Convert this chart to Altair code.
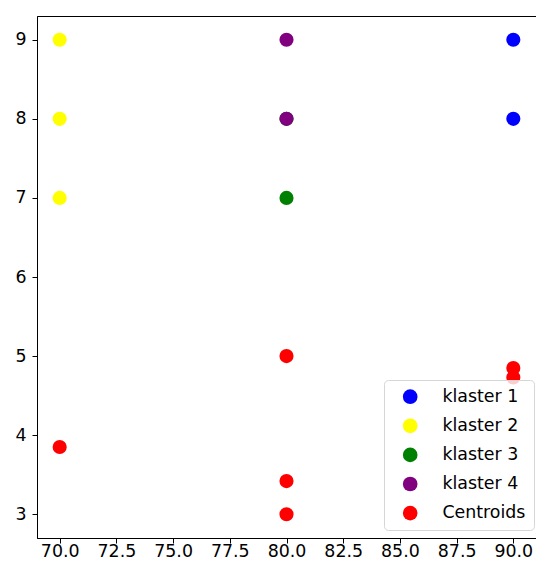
import altair as alt
import pandas as pd

# data
k1_x = [90, 90]
k1_y = [9, 8]
k2_x = [70, 70, 70]
k2_y = [9, 8, 7]
k3_x = [80, 80]
k3_y = [8, 7]
k4_x = [80, 80]
k4_y = [9, 8]
cent_x = [70, 80, 80, 80, 90, 90]
cent_y = [3.85, 5.0, 3.42, 3.0, 4.85, 4.73]

series = ["klaster 1", "klaster 2", "klaster 3", "klaster 4", "Centroids"]
colors = ["blue", "yellow", "green", "purple", "red"]
x_ticks = [70.0, 72.5, 75.0, 77.5, 80.0, 82.5, 85.0, 87.5, 90.0]
y_ticks = [3, 4, 5, 6, 7, 8, 9]

rows = []
for name, xs, ys in zip(series, [k1_x, k2_x, k3_x, k4_x, cent_x], [k1_y, k2_y, k3_y, k4_y, cent_y]):
    for x, y in zip(xs, ys):
        rows.append({"x": x, "y": y, "series": name})
df = pd.DataFrame(rows)
df["idx"] = range(len(df))

chart = alt.Chart(df).mark_circle(size=200, opacity=1).encode(
    x=alt.X("x:Q", scale=alt.Scale(domain=[69, 91], nice=False, zero=False),
            axis=alt.Axis(values=x_ticks, format=".1f", title=None,
                          tickSize=5, labelPadding=-1)),
    y=alt.Y("y:Q", scale=alt.Scale(domain=[2.7, 9.3], nice=False, zero=False),
            axis=alt.Axis(values=y_ticks, format="d", title=None,
                          tickSize=5, labelPadding=6)),
    color=alt.Color("series:N", scale=alt.Scale(domain=series, range=colors),
                    sort=series,
                    legend=alt.Legend(title=None, orient="none", legendX=347, legendY=364,
                                      symbolType="circle", symbolSize=215,
                                      symbolStrokeWidth=0, symbolOpacity=1,
                                      labelFontSize=17.4, labelFont="DejaVu Sans",
                                      labelColor="black",
                                      rowPadding=10.1, padding=8,
                                      symbolOffset=9.5, labelOffset=23.5,
                                      fillColor="rgba(255,255,255,0.8)",
                                      strokeColor="#d6d6d6", cornerRadius=4)),
    order=alt.Order("idx:Q"),
).properties(
    width=499, height=522,
    autosize=alt.AutoSizeParams(type="none"),
    padding={"left": 29, "top": 8, "right": 0, "bottom": 22},
).configure_view(
    stroke="black", strokeWidth=1
).configure_axis(
    grid=False, domainColor="black", domainWidth=1, tickColor="black",
    labelFont="DejaVu Sans", labelFontSize=17.4, labelColor="black",
)

chart.save("out.html", embed_options={"renderer": "svg", "actions": False})
